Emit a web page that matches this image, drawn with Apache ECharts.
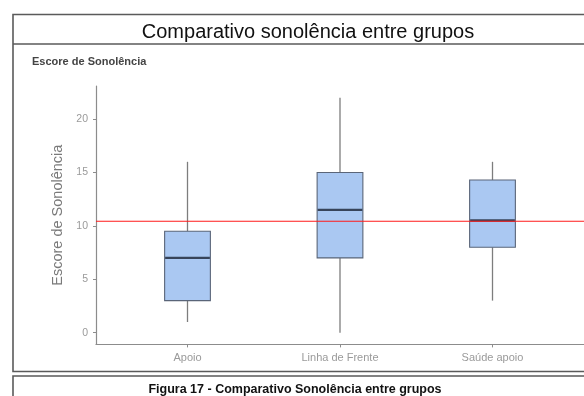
<!DOCTYPE html>
<html>
<head>
<meta charset="utf-8">
<script src="https://cdn.jsdelivr.net/npm/echarts@6/dist/echarts.min.js"></script>
<style>
  html, body { margin: 0; padding: 0; background: #fff; }
  #chart { width: 584px; height: 396px; }
</style>
</head>
<body>
<div id="chart"></div>
<script>
// Sleepiness score by group: five-number summaries
const groups = ['Apoio', 'Linha de Frente', 'Saúde apoio'];
const minValues = [1, 0, 3];
const q1Values = [3, 7, 8];
const medianValues = [7, 11.5, 10.5];
const q3Values = [9.5, 15, 14.3];
const maxValues = [16, 22, 16];
const overallMean = 10.44;
const yTicks = [0, 5, 10, 15, 20];
const xPositions = [1, 2, 3];

// discrete axis padded by 0.6 of a group on each side
const xMin = 0.4, xMax = 3.6;
const halfBox = 0.15;

const boxData = groups.map((g, i) => [
  xPositions[i], minValues[i], q1Values[i], medianValues[i], q3Values[i], maxValues[i]
]);

const chart = echarts.init(document.getElementById('chart'), null, { renderer: 'canvas' });

const frameColor = '#5a5a5a';
const axisGrey = '#8c8c8c';
const labelGrey = '#9a9a9a';
const font = 'Liberation Sans';

function renderBox(params, api) {
  const x = api.value(0);
  const lo = api.value(1), q1 = api.value(2), med = api.value(3), q3 = api.value(4), hi = api.value(5);
  const pHi = api.coord([x, hi]);
  const pQ3 = api.coord([x, q3]);
  const pQ1 = api.coord([x, q1]);
  const pLo = api.coord([x, lo]);
  const left = api.coord([x - halfBox, med])[0];
  const right = api.coord([x + halfBox, med])[0];
  const pMed = api.coord([x, med]);
  const whisker = { stroke: '#7d7d7d', lineWidth: 1.3 };
  return {
    type: 'group',
    children: [
      { type: 'line', shape: { x1: pHi[0], y1: pHi[1], x2: pQ3[0], y2: pQ3[1] }, style: whisker },
      { type: 'line', shape: { x1: pQ1[0], y1: pQ1[1], x2: pLo[0], y2: pLo[1] }, style: whisker },
      {
        type: 'rect',
        shape: { x: left, y: pQ3[1], width: right - left, height: pQ1[1] - pQ3[1] },
        style: { fill: '#aac8f2', stroke: '#5a6578', lineWidth: 1.1 }
      },
      {
        type: 'line',
        shape: { x1: left + 0.5, y1: pMed[1], x2: right - 0.5, y2: pMed[1] },
        style: { stroke: '#37445a', lineWidth: 2.4 }
      }
    ]
  };
}

chart.setOption({
  backgroundColor: '#ffffff',
  animation: false,
  title: [
    {
      text: 'Comparativo sonolência entre grupos',
      left: 303, top: 17, textAlign: 'center',
      textStyle: { fontFamily: font, fontSize: 20, fontWeight: 'normal', color: '#111' }
    },
    {
      text: 'Escore de Sonolência',
      left: 27, top: 51,
      textStyle: { fontFamily: font, fontSize: 11, fontWeight: 'bold', color: '#444' }
    },
    {
      text: 'Figura 17 - Comparativo Sonolência entre grupos',
      left: 290, top: 378, textAlign: 'center',
      textStyle: { fontFamily: font, fontSize: 12.5, fontWeight: 'bold', color: '#111' }
    }
  ],
  graphic: [
    { type: 'rect', shape: { x: 13, y: 14.5, width: 600, height: 357 }, style: { fill: 'none', stroke: frameColor, lineWidth: 1.6 }, silent: true },
    { type: 'line', shape: { x1: 13, y1: 44, x2: 600, y2: 44 }, style: { stroke: frameColor, lineWidth: 1.6 }, silent: true },
    { type: 'rect', shape: { x: 13, y: 376, width: 600, height: 40 }, style: { fill: 'none', stroke: frameColor, lineWidth: 1.6 }, silent: true }
  ],
  grid: { left: 96, right: -14, top: 86, bottom: 396 - 344.4, containLabel: false },
  xAxis: {
    type: 'value',
    min: xMin, max: xMax,
    splitLine: { show: false },
    axisLine: { show: true, onZero: false, lineStyle: { color: axisGrey, width: 1.2 } },
    axisTick: { show: true, customValues: xPositions, length: 3, lineStyle: { color: axisGrey } },
    axisLabel: {
      customValues: xPositions,
      formatter: v => groups[Math.round(v) - 1] || '',
      color: labelGrey, fontSize: 11, fontFamily: font, margin: 8
    }
  },
  yAxis: {
    type: 'value',
    min: -1.1, max: 23.1,
    name: 'Escore de Sonolência',
    nameLocation: 'middle',
    nameGap: 31,
    nameTextStyle: { color: '#7a7a7a', fontSize: 14.5, fontFamily: font },
    splitLine: { show: false },
    axisLine: { show: true, onZero: false, lineStyle: { color: axisGrey, width: 1.2 } },
    axisTick: { show: true, customValues: yTicks, length: 3, lineStyle: { color: axisGrey } },
    axisLabel: { customValues: yTicks, color: labelGrey, fontSize: 10.5, fontFamily: font, margin: 8 }
  },
  series: [
    {
      type: 'custom',
      data: boxData,
      renderItem: renderBox,
      z: 2
    },
    {
      // overall mean reference line
      type: 'line',
      data: [[xMin, overallMean], [xMax, overallMean]],
      symbol: 'none',
      lineStyle: { color: '#ff1a1a', width: 1.1 },
      z: 4
    }
  ]
});
</script>
</body>
</html>
